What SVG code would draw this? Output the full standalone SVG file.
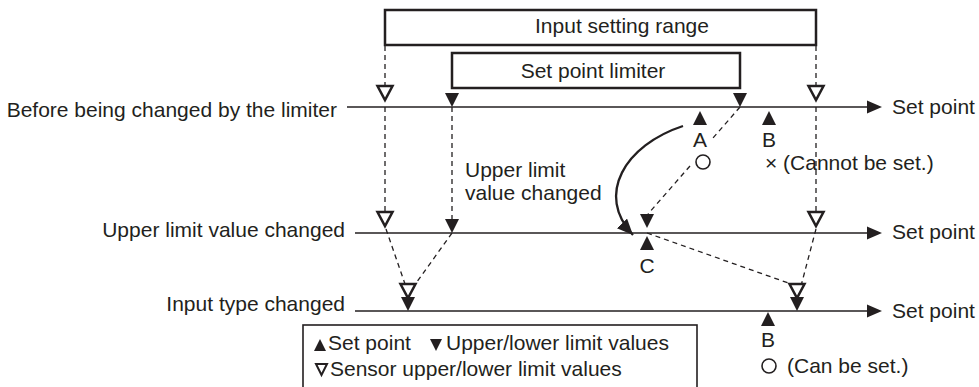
<svg xmlns="http://www.w3.org/2000/svg" width="979" height="387" viewBox="0 0 979 387">
<style>
.t{font-family:"Liberation Sans",Arial,sans-serif;font-size:21px;fill:#231f20}
.ln{stroke:#231f20;stroke-width:1.6;fill:none}
.box{stroke:#231f20;stroke-width:2.5;fill:#fff}
.dash{stroke:#231f20;stroke-width:1.3;stroke-dasharray:5 4;fill:none}
.fill{fill:#231f20}
.open{fill:#fff;stroke:#231f20;stroke-width:2.5}
</style>
<defs>
<path id="dn" class="fill" d="M-7,-14 L7,-14 L0,0 Z"/>
<path id="up" class="fill" d="M-7,14 L7,14 L0,0 Z"/>
<path id="op" class="open" d="M-7.5,-14 L7.5,-14 L0,0 Z"/>
<marker id="ah" markerUnits="userSpaceOnUse" markerWidth="20" markerHeight="16" refX="16" refY="7" orient="auto">
<path d="M0,0 L16,7 L0,14 Z" fill="#231f20"/>
</marker>
</defs>

<g id="input-setting-range">
<rect class="box" x="385" y="10" width="431" height="35"/>
<text class="t" x="622" y="33" text-anchor="middle">Input setting range</text>
</g>
<g id="set-point-limiter">
<rect class="box" x="452" y="53" width="288" height="35"/>
<text class="t" x="593" y="78" text-anchor="middle">Set point limiter</text>
</g>

<g id="connectors">
<path class="dash" d="M385,46 V86 M385,107 V212 M816,46 V86 M816,107 V212 M452,107 V220"/>
<path class="dash" d="M386,229 L405,284 M452,233 L414,286"/>
<path class="dash" d="M740,107 L713,138 M690,166 L648,214"/>
<path class="dash" d="M647,233 L794,285 M816,229 L801,286"/>
<path d="M683,126 C625,145 595,195 633,235" fill="none" stroke="#231f20" stroke-width="2.3" marker-end="url(#ah)"/>
</g>

<g id="line-before">
<text class="t" x="337" y="117" text-anchor="end">Before being changed by the limiter</text>
<line class="ln" x1="347" y1="107" x2="870" y2="107"/>
<path class="fill" d="M867,100.5 L882,107 L867,113.5 Z"/>
<text class="t" x="892" y="114">Set point</text>
<use href="#op" x="385" y="100"/>
<use href="#op" x="816" y="100"/>
<use href="#dn" x="452" y="107"/>
<use href="#dn" x="740" y="107"/>
</g>

<g id="point-A">
<use href="#up" x="700" y="111"/>
<text class="t" x="700" y="147" text-anchor="middle">A</text>
<circle cx="703" cy="162" r="7" fill="none" stroke="#231f20" stroke-width="1.6"/>
</g>
<g id="point-B1">
<use href="#up" x="769" y="111"/>
<text class="t" x="769" y="147" text-anchor="middle">B</text>
<text class="t" x="765" y="170">× (Cannot be set.)</text>
</g>

<g id="label-upper-limit-changed">
<text class="t" x="465" y="177">Upper limit</text>
<text class="t" x="465" y="200">value changed</text>
</g>

<g id="line-upper">
<text class="t" x="345" y="237" text-anchor="end">Upper limit value changed</text>
<line class="ln" x1="355" y1="233" x2="870" y2="233"/>
<path class="fill" d="M867,226.5 L882,233 L867,239.5 Z"/>
<text class="t" x="892" y="239">Set point</text>
<use href="#op" x="385" y="226"/>
<use href="#op" x="816" y="226"/>
<use href="#dn" x="452" y="233"/>
</g>

<g id="point-C">
<use href="#dn" x="647" y="228"/>
<use href="#up" x="647" y="236"/>
<text class="t" x="647" y="273" text-anchor="middle">C</text>
</g>

<g id="line-input">
<text class="t" x="345" y="311" text-anchor="end">Input type changed</text>
<line class="ln" x1="355" y1="311" x2="870" y2="311"/>
<path class="fill" d="M867,304.5 L882,311 L867,317.5 Z"/>
<text class="t" x="892" y="318">Set point</text>
<use href="#op" x="408" y="298"/>
<use href="#dn" x="408" y="311"/>
<use href="#op" x="797" y="298"/>
<use href="#dn" x="797" y="311"/>
</g>

<g id="point-B2">
<use href="#up" x="768" y="312"/>
<text class="t" x="768" y="347" text-anchor="middle">B</text>
<circle cx="769" cy="366" r="7" fill="none" stroke="#231f20" stroke-width="1.6"/>
<text class="t" x="787" y="373">(Can be set.)</text>
</g>

<g id="legend">
<rect x="303" y="325" width="394" height="80" fill="#fff" stroke="#231f20" stroke-width="1.6"/>
<path class="fill" d="M314,351 L326,351 L320,339 Z"/>
<text class="t" x="328" y="350">Set point</text>
<path class="fill" d="M430,339 L442,339 L436,351 Z"/>
<text class="t" x="446" y="350">Upper/lower limit values</text>
<path d="M316,364 L327,364 L321.5,375 Z" fill="none" stroke="#231f20" stroke-width="2"/>
<text class="t" x="330" y="376">Sensor upper/lower limit values</text>
</g>
</svg>
